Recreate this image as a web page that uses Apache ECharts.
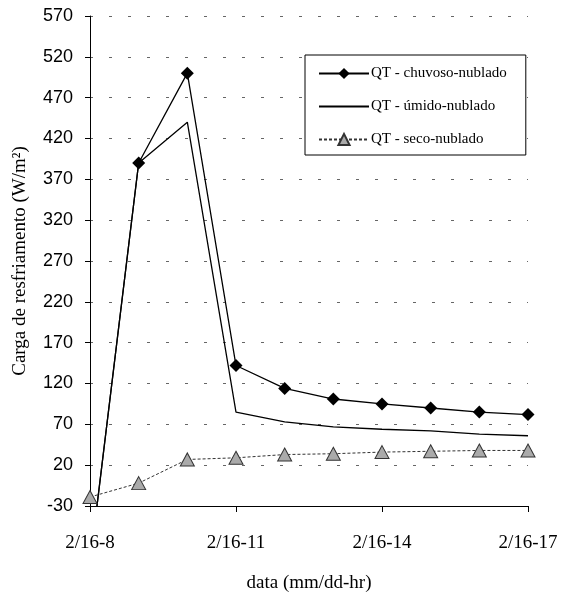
<!DOCTYPE html>
<html><head><meta charset="utf-8">
<script src="https://cdn.jsdelivr.net/npm/echarts@6/dist/echarts.min.js"></script>
<style>html,body{margin:0;padding:0;background:#fff}#c{width:562px;height:599px}</style>
</head><body><div id="c"></div>
<script>
var categories = ['2/16-8','2/16-9','2/16-10','2/16-11','2/16-12','2/16-13','2/16-14','2/16-15','2/16-16','2/16-17'];
var chuvoso = [-100, 390, 500, 142, 114, 101, 95, 90, 85, 82];
var umido = [-100, 390, 440, 85, 73, 67, 64, 62, 58, 56];
var seco = [-19, -2, 27, 29, 33, 34, 36, 37, 38, 38];
var yMin = -30, yMax = 570, yStep = 50;

var chart = echarts.init(document.getElementById('c'), null, {renderer:'canvas'});
chart.setOption({
  animation:false,
  backgroundColor:'#fff',
  grid:{left:90,right:34,top:16,bottom:93,containLabel:false},
  legend:{
    orient:'vertical', left:305, top:55,
    backgroundColor:'#fff', borderColor:'#000', borderWidth:1,
    padding:[11,19,8,13], itemGap:18, itemWidth:50, itemHeight:14,
    lineStyle:{width:2},
    textStyle:{fontFamily:'Liberation Serif', fontSize:15, color:'#000', padding:[0,0,0,-3]},
    data:[
      {name:'QT - chuvoso-nublado'},
      {name:'QT - úmido-nublado', itemStyle:{opacity:0}},
      {name:'QT - seco-nublado'}
    ]
  },
  xAxis:{
    type:'category', data:categories, boundaryGap:false,
    name:'data (mm/dd-hr)', nameLocation:'middle', nameGap:68,
    nameTextStyle:{fontFamily:'Liberation Serif', fontSize:19, color:'#000'},
    axisLine:{onZero:false, lineStyle:{color:'#000', width:1}},
    axisTick:{show:true, interval:2, length:6, inside:false, lineStyle:{color:'#000'}},
    axisLabel:{interval:2, margin:28, fontFamily:'Liberation Serif', fontSize:19, color:'#000'},
    splitLine:{show:false}
  },
  yAxis:{
    type:'value', min:yMin, max:yMax, interval:yStep,
    name:'Carga de resfriamento (W/m²)', nameLocation:'middle', nameGap:60,
    nameTextStyle:{fontFamily:'Liberation Serif', fontSize:19, color:'#000'},
    axisLine:{show:true, lineStyle:{color:'#000', width:1}},
    axisTick:{show:true, length:5, lineStyle:{color:'#000'}},
    axisLabel:{margin:17, fontFamily:'Liberation Sans', fontSize:18, color:'#000'},
    splitLine:{show:true, lineStyle:{color:'#666', type:[3,16], width:1}}
  },
  series:[
    {name:'QT - chuvoso-nublado', type:'line', data:chuvoso, symbol:'diamond', symbolSize:13, showAllSymbol:true, clip:true,
     itemStyle:{color:'#000'}, lineStyle:{color:'#000', width:1.3}},
    {name:'QT - úmido-nublado', type:'line', data:umido, symbol:'none', clip:true,
     itemStyle:{color:'#000'}, lineStyle:{color:'#000', width:1.3}},
    {name:'QT - seco-nublado', type:'line', data:seco, symbol:'triangle', symbolSize:[14,13], showAllSymbol:true,
     itemStyle:{color:'#aaa', borderColor:'#333', borderWidth:1}, lineStyle:{color:'#333', width:1, type:[3,2]}}
  ]
});
</script></body></html>
